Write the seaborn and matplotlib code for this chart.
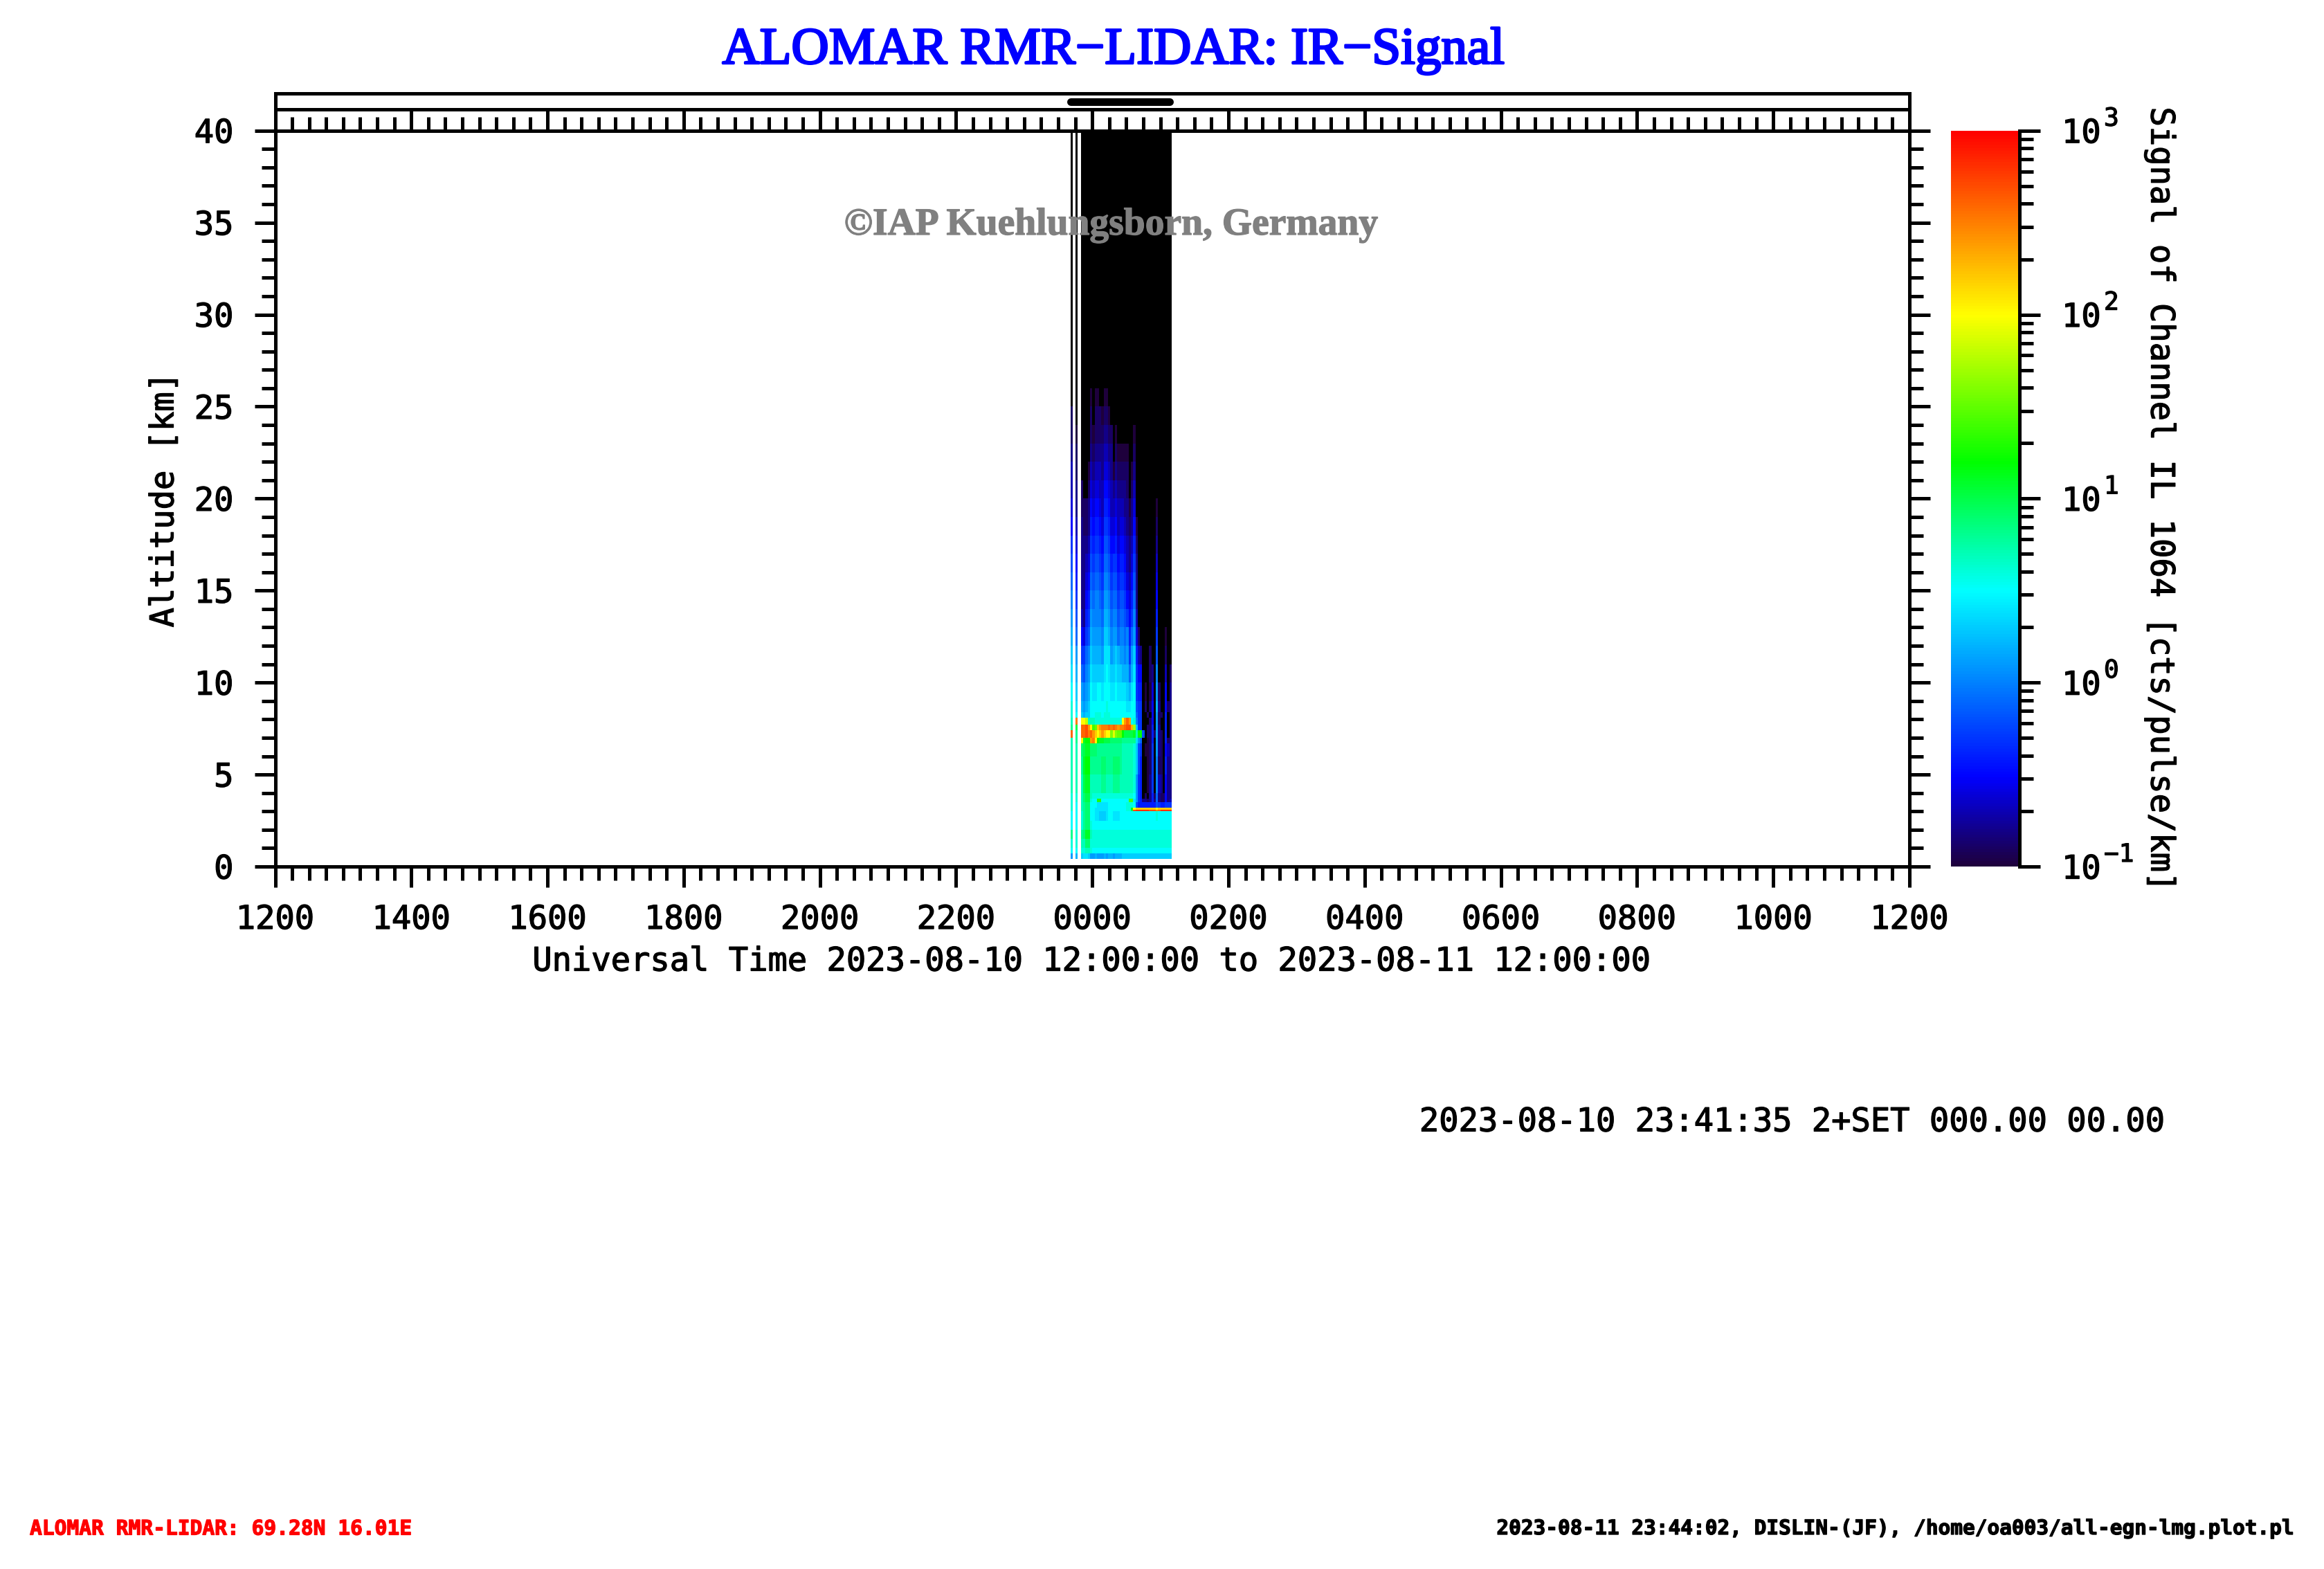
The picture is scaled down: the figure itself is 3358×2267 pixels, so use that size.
import numpy as np
import matplotlib
matplotlib.use("Agg")
import matplotlib.pyplot as plt
import matplotlib.patheffects as pe
import matplotlib.text as mtext
import seaborn as sns
from matplotlib.colors import LinearSegmentedColormap, LogNorm
from matplotlib.ticker import FixedLocator

# page size in pixels, everything below is placed in pixels of this page
W, H = 3358, 2267
px = 72 / 100

time_labels = ['1200', '1400', '1600', '1800', '2000', '2200', '0000', '0200', '0400', '0600', '0800', '1000', '1200']
alt_labels = ['0', '5', '10', '15', '20', '25', '30', '35', '40']
cbar_values = [0.1, 1, 10, 100, 1000]
cbar_exponents = ['\u22121', '0', '1', '2', '3']

# start of every profile in minutes after 12 UT, each one lasts 2 minutes
profile_start = [701, 705] + [710 + 2 * k for k in range(40)]

# layer edges in km, from the top down
alt_edges = [40, 26, 25, 24, 23, 22, 21, 20, 19, 18, 17, 16, 15, 14, 13, 12, 11, 10, 9, 8.4, 8.1, 7.7, 7.4, 7.0,
             6.7, 6, 5, 4, 3.7, 3.5, 3.2, 3.1, 3.0, 2.5, 2, 1.5, 1, 0.7, 0.4]

# signal, in tenths of a decade (10 = 10 cts, -10 = 0.1 cts), o = under the scale (black)
o = -20
signal_tenths = [
    [o,o,  o,o,o,o,o,o,o,o,o,o,  o,o,o,o,o,o,o,o,o,o,  o,o,o,o,o,o,o,o,o,o,  o,o,o,o,o,o,o,o,o,o],
    [o,o,  o,o,o,o,-10,o,-10,-10,o,o,  -10,-10,o,o,o,o,o,o,o,o,  o,o,o,o,o,o,o,o,o,o,  o,o,o,o,o,o,o,o,o,o],
    [-9,o,  o,o,o,o,-9,o,-9,-9,-9,-10,  -9,-9,-10,o,o,o,o,o,o,o,  o,o,o,o,o,o,o,o,o,o,  o,o,o,o,o,o,o,o,o,o],
    [-9,-10,  o,o,o,o,-9,-10,-9,-9,-9,-9,  -8,-8,-9,-9,o,-10,o,o,o,o,  o,o,o,-10,o,o,o,o,o,o,  o,o,o,o,o,o,o,o,o,o],
    [-8,-9,  o,o,o,o,-8,-9,-8,-8,-8,-8,  -7,-7,-8,-8,o,-9,-10,-10,-10,-10,  -10,o,o,-9,o,o,o,o,o,o,  o,o,o,o,o,o,o,o,o,o],
    [-7,-9,  o,o,o,-10,-7,-8,-7,-7,-7,-8,  -6,-6,-7,-8,-10,-8,-9,-9,-9,-9,  -9,o,-10,-8,o,o,o,o,o,o,  o,o,o,o,o,o,o,o,o,o],
    [-7,-8,  -9,o,o,-9,-6,-7,-6,-6,-7,-7,  -5,-5,-6,-7,-8,-7,-8,-8,-8,-8,  -9,o,-9,-7,o,o,o,o,o,o,  o,o,o,o,o,o,o,o,o,o],
    [-6,-8,  -9,-9,-9,-8,-5,-6,-5,-5,-6,-7,  -4,-4,-5,-7,-7,-6,-7,-7,-7,-8,  -8,-10,-8,-6,o,o,o,o,o,o,  o,o,o,-10,o,o,o,o,o,o],
    [-5,-7,  -8,-9,-9,-8,-4,-5,-4,-4,-5,-6,  -3,-3,-4,-6,-6,-5,-7,-6,-6,-7,  -8,-9,-8,-5,-10,o,o,o,o,o,  o,o,o,-9,o,o,o,o,o,o],
    [-3,-6,  -8,-8,-8,-7,-3,-4,-3,-3,-4,-5,  -2,-2,-3,-5,-5,-4,-6,-5,-5,-6,  -7,-8,-7,-4,-9,o,o,o,o,o,  o,o,o,-8,o,o,o,o,o,o],
    [-2,-5,  -8,-8,-7,-6,-2,-3,-2,-2,-3,-4,  -1,-1,-2,-4,-3,-3,-5,-4,-4,-5,  -7,-8,-6,-3,-8,o,o,o,o,o,  o,o,o,-7,o,o,o,o,o,o],
    [-1,-4,  -8,-8,-6,-5,-1,-2,-1,-1,-2,-3,  0,0,-1,-3,-2,-2,-4,-3,-3,-4,  -6,-7,-5,-2,-8,o,o,o,o,o,  o,o,o,-6,o,o,o,o,o,o],
    [0,-3,  -8,-8,-5,-4,0,-1,0,0,-1,-2,  1,1,0,-2,-1,-1,-3,-2,-2,-3,  -5,-6,-4,-1,-8,o,o,o,o,o,  o,o,o,-5,o,o,o,o,o,o],
    [1,-2,  -7,-8,-4,-3,1,0,0,0,0,-1,  2,2,1,-1,0,0,-2,-1,-1,-2,  -3,-5,-3,0,-7,o,o,o,o,o,  o,o,o,-4,o,o,o,o,o,o],
    [2,-1,  -5,-6,-3,-2,2,1,1,1,1,0,  3,3,2,0,1,1,-1,0,0,-1,  0,-4,-1,1,-6,-9,o,o,o,o,  o,o,o,-3,o,o,o,-10,o,o],
    [3,1,  -3,-3,-1,0,3,2,2,2,2,1,  4,4,4,1,2,3,2,1,1,0,  1,-3,1,3,-4,-7,-8,o,o,o,  -9,o,o,-2,o,o,o,-9,o,o],
    [4,2,  -1,-2,0,1,4,3,3,3,3,3,  4,5,4,3,3,4,3,3,2,2,  2,-1,2,4,-3,-5,-5,o,o,o,  -9,-8,o,0,o,o,o,-7,o,-9],
    [5,3,  1,0,1,2,5,4,4,5,5,4,  5,5,5,4,4,5,4,4,4,4,  3,2,4,5,-3,-4,-4,o,-10,o,  -10,-6,o,1,-9,o,o,-5,o,-8],
    [6,4,  2,1,2,3,5,5,5,5,5,5,  5,6,5,5,5,5,5,5,5,5,  4,4,5,5,-2,-3,-3,o,-9,o,  -9,-5,o,2,-8,o,o,-5,-9,-8],
    [6,5,  3,2,3,3,5,5,6,6,6,5,  6,6,6,5,5,5,5,5,5,5,  5,5,5,5,-1,-3,-3,o,o,-9,  o,-5,o,1,-9,-9,o,-4,o,-8],
    [7,25,  20,20,18,7,7,7,6,6,6,6,  6,6,6,6,6,6,6,6,20,24,  26,24,5,6,0,-3,-3,o,o,o,  -9,-5,o,1,-9,o,o,-4,o,-8],
    [8,10,  26,26,27,24,20,14,15,22,24,25,  25,25,26,25,26,25,24,25,25,26,  27,27,23,17,3,-3,-3,o,o,-9,  -9,-4,o,1,-8,o,o,-4,o,-8],
    [26,8,  26,26,27,25,26,24,22,20,22,24,  22,20,20,16,19,16,15,15,12,10,  10,10,10,11,7,12,12,-2,o,-9,  -9,-4,-9,1,-8,-9,o,-4,o,-8],
    [7,8,  20,11,12,12,24,25,20,12,11,11,  10,10,10,9,9,9,9,9,8,8,  8,8,8,8,4,1,-1,o,o,-10,  -9,-4,o,1,-8,-9,o,-4,-9,-8],
    [7,7,  9,10,11,11,9,9,9,8,8,8,  8,8,8,8,8,8,8,8,7,7,  7,7,7,6,3,-2,-3,o,-10,-10,  -9,-3,o,1,-8,-9,o,-5,-7,-8],
    [7,7,  8,11,12,12,8,8,8,8,8,9,  9,8,8,8,9,9,9,8,7,7,  7,7,7,6,3,-2,-4,o,o,-10,  -9,-3,o,0,-9,-9,o,-4,-8,-8],
    [7,7,  7,10,11,11,7,7,7,7,7,8,  8,7,7,7,8,8,8,7,7,7,  7,7,7,6,1,-3,-4,o,o,-10,  -8,-3,o,0,-7,-8,o,-5,-8,-8],
    [6,6,  7,9,10,10,7,6,6,6,6,6,  6,6,6,6,6,6,6,6,6,6,  6,6,6,5,1,-3,-4,o,-9,o,  -8,-4,-9,-1,-8,-9,-9,-5,-8,-8],
    [6,6,  7,9,10,10,6,5,5,13,13,5,  5,5,5,5,5,5,5,5,5,5,  5,14,14,4,1,-3,-4,-8,-8,-9,  -8,-4,-8,-1,-8,-9,-9,-5,-8,-7],
    [6,5,  7,8,9,9,5,5,5,4,4,4,  4,4,5,5,5,5,5,5,5,5,  6,6,6,5,-2,-4,-4,-4,-4,-4,  -4,-4,-4,-2,-3,-4,-4,-3,-3,-3],
    [6,5,  7,8,9,9,5,5,4,4,4,4,  4,4,5,5,5,5,5,5,5,5,  6,6,12,20,22,22,22,22,22,22,  22,22,22,20,22,22,22,22,22,22],
    [6,5,  7,8,9,9,5,5,4,4,4,4,  4,4,5,5,5,5,5,5,5,5,  6,6,10,27,28,28,28,28,28,28,  27,27,27,25,26,28,28,28,28,28],
    [5,5,  6,8,9,9,5,5,4,4,3,3,  3,4,5,5,4,4,4,5,5,5,  5,5,5,5,5,5,5,5,5,5,  5,5,5,6,5,5,5,5,5,5],
    [5,5,  6,8,9,9,6,5,5,5,5,5,  5,5,5,5,5,5,5,5,5,5,  5,5,5,5,5,5,5,5,5,5,  5,5,5,5,5,5,5,5,5,5],
    [8,6,  8,9,11,11,7,6,6,6,6,6,  6,6,6,6,6,6,6,6,6,6,  6,6,6,6,6,6,6,6,6,6,  6,6,6,6,6,6,6,6,6,6],
    [6,6,  7,7,9,9,6,6,6,6,6,6,  6,6,6,6,6,6,6,6,6,6,  6,6,6,6,6,6,6,6,6,6,  6,6,6,6,6,6,6,6,6,6],
    [5,5,  6,6,7,7,6,5,5,5,5,5,  5,5,5,5,5,5,5,5,5,5,  5,5,5,5,5,5,5,5,5,5,  5,5,5,5,5,5,5,5,5,5],
    [1,2,  3,4,4,3,1,1,2,1,1,1,  2,1,2,2,1,2,2,2,3,3,  3,3,3,3,3,3,3,3,3,3,  3,3,3,3,3,3,3,3,3,3],
]

# 1 minute x 100 m grid over the whole 24 h, white where there is no profile
grid = np.full((400, 1440), np.nan)
for r, row in enumerate(signal_tenths):
    lo, hi = round(alt_edges[r + 1] * 10), round(alt_edges[r] * 10)
    for start, val in zip(profile_start, row):
        grid[lo:hi, start:start + 2] = 10.0 ** (val / 10)

sns.set_theme(style="white")
plt.rcParams['font.family'] = ['DejaVu Sans Mono']
plt.rcParams['axes.linewidth'] = 5 * px
plt.rcParams['axes.edgecolor'] = 'black'

fig = plt.figure(figsize=(W / 100, H / 100), dpi=100, facecolor='white')


def add_axes(x0, y0, x1, y1):
    # corners in page pixels, y counted from the top
    return fig.add_axes([x0 / W, 1 - y1 / H, (x1 - x0) / W, (y1 - y0) / H])


ax = add_axes(397.5, 188.7, 2759, 1252)
strip = add_axes(397.5, 135, 2759, 158)
cax = add_axes(2819, 188.7, 2918, 1252)

# DISLIN style rainbow: dark violet, blue, cyan, green, yellow, red over 4 decades
stops = [(0.0, '#1e003c'), (0.12, '#0000ff'), (0.375, '#00ffff'), (0.55, '#00ff00'), (0.75, '#ffff00'), (1.0, '#ff0000')]
cmap = LinearSegmentedColormap.from_list('dislin', stops, N=256)
cmap.set_under('black')
norm = LogNorm(vmin=0.1, vmax=1000)

sns.heatmap(grid, ax=ax, cmap=cmap, norm=norm, cbar_ax=cax, xticklabels=False, yticklabels=False)
ax.set_xlim(0, 1440)
ax.set_ylim(0, 400)
for s in ax.spines.values():
    s.set_visible(True)
    s.set_linewidth(5 * px)
    s.set_color('black')

ax.set_xticks(np.arange(len(time_labels)) * 120)
ax.set_xticklabels(time_labels, fontsize=33.9)
ax.set_xticks(np.arange(0, 1441, 15), minor=True)
ax.set_yticks(np.arange(len(alt_labels)) * 50)
ax.set_yticklabels(alt_labels, fontsize=33.9, rotation=0)
ax.set_yticks(np.arange(0, 401, 10), minor=True)
ax.tick_params(axis='x', which='major', bottom=True, top=True, length=30 * px, width=5 * px, color='black', pad=25 * px, labelcolor='black')
ax.tick_params(axis='x', which='minor', bottom=True, top=True, length=20 * px, width=5 * px, color='black')
ax.tick_params(axis='y', which='major', left=True, right=True, length=30 * px, width=5 * px, color='black', pad=30 * px, labelcolor='black')
ax.tick_params(axis='y', which='minor', left=True, right=True, length=20 * px, width=5 * px, color='black')

# small panel on top: bar shows when data were taken
strip.set_xlim(0, 1440)
strip.set_ylim(0, 1)
strip.set_xticks([])
strip.set_yticks([])
for s in strip.spines.values():
    s.set_visible(True)
    s.set_linewidth(5 * px)
    s.set_color('black')
strip.plot([profile_start[0], profile_start[-1]], [0.5, 0.5], color='black', lw=11 * px, solid_capstyle='round')

# colour bar, the exponents are separate texts as they are nearly as big as the 10
cb = ax.collections[0].colorbar
cb.outline.set_visible(False)
cb.set_ticks(cbar_values, labels=['10'] * len(cbar_values))
cax.yaxis.set_minor_locator(FixedLocator([m * d for d in (0.1, 1, 10, 100) for m in range(2, 10)]))
cax.tick_params(which='major', right=True, length=30 * px, width=5 * px, color='black', pad=31 * px, labelsize=33.9, labelcolor='black')
cax.tick_params(which='minor', right=True, length=20 * px, width=5 * px, color='black')
cax.spines['right'].set_visible(True)
cax.spines['right'].set_linewidth(5 * px)
cax.spines['right'].set_color('black')
for val, exp in zip(cbar_values, cbar_exponents):
    cax.annotate(exp, xy=(1, val), xycoords=('axes fraction', 'data'), xytext=(122 * px, 0 * px),
                 textcoords='offset points', fontsize=26, color='black', ha='left', va='bottom', annotation_clip=False)

title = fig.text(1608.5 / W, 1 - 74 / H, 'ALOMAR RMR\u2212LIDAR: IR\u2212Signal', family='Liberation Serif', fontsize=54,
                 color='#0000ff', ha='center', va='center')
fig.text(1605 / W, 1 - 325 / H, '\u00a9IAP Kuehlungsborn, Germany', family='Liberation Serif', weight='bold', fontsize=40,
         color='#808080', ha='center', va='center', zorder=10)
fig.text(1578 / W, 1 - 1390 / H, 'Universal Time 2023-08-10 12:00:00 to 2023-08-11 12:00:00', fontsize=33.9,
         color='black', ha='center', va='center')
fig.text(238 / W, 1 - 722 / H, 'Altitude [km]', fontsize=33.9, color='black', rotation=90, ha='center', va='center')
fig.text(3121 / W, 1 - 722 / H, 'Signal of Channel IL 1064 [cts/pulse/km]', fontsize=33.9, color='black', rotation=-90,
         ha='center', va='center')
fig.text(2590 / W, 1 - 1622 / H, '2023-08-10 23:41:35 2+SET 000.00 00.00', fontsize=33.9, color='black', ha='center', va='center')
fig.text(43 / W, 1 - 2209 / H, 'ALOMAR RMR-LIDAR: 69.28N 16.01E', fontsize=21.3, weight='bold', color='#ff0000', ha='left', va='center')
fig.text(3308 / W, 1 - 2209 / H, '2023-08-11 23:44:02, DISLIN-(JF), /home/oa003/all-egn-lmg.plot.pl', fontsize=21.2, weight='bold',
         color='black', ha='right', va='center')

# reference text is drawn with heavier strokes
for t in fig.findobj(mtext.Text):
    if t.get_text():
        t.set_path_effects([pe.withStroke(linewidth=1.3 * px, foreground=t.get_color())])
title.set_path_effects([pe.withStroke(linewidth=3 * px, foreground='#0000ff')])

fig.savefig('out.png', dpi=100, facecolor='white')
